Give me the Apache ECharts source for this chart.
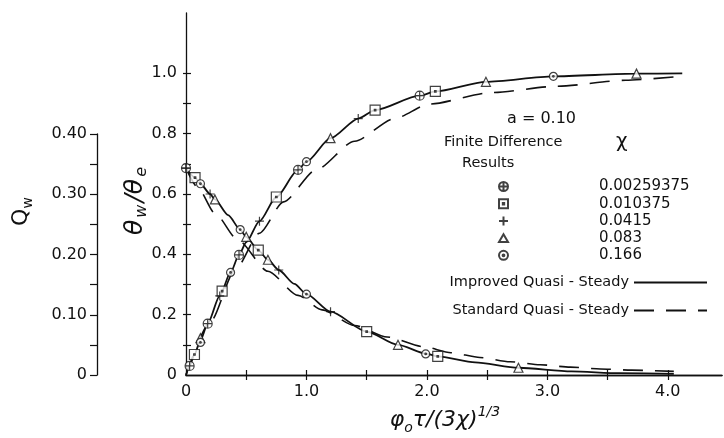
<!DOCTYPE html>
<html><head><meta charset="utf-8">
<script src="https://cdn.jsdelivr.net/npm/echarts@6/dist/echarts.min.js"></script>
<style>html,body{margin:0;padding:0;background:#fff}#c{width:724px;height:438px}</style>
</head><body><div id="c"></div>
<script>
// ---- data ----
const xLabelValues = [0, 1, 2, 3, 4];
const xTickValues = [0.5, 1, 1.5, 2, 2.5, 3, 3.5, 4];
const thetaLabelValues = [0, 0.2, 0.4, 0.6, 0.8, 1.0];
const thetaTickValues = [0.1, 0.2, 0.3, 0.4, 0.5, 0.6, 0.7, 0.8, 0.9, 1.0];
const qLabelValues = [0, 0.1, 0.2, 0.3, 0.4];
const qTickValues = [0, 0.05, 0.1, 0.15, 0.2, 0.25, 0.3, 0.35, 0.4];
const chiValues = ['0.00259375', '0.010375', '0.0415', '0.083', '0.166'];

// Improved quasi-steady (solid) : theta_w/theta_e rising curve
const improvedTheta = [[0,0],[0.03,0.03],[0.07,0.068],[0.12,0.115],[0.18,0.17],[0.28,0.262],[0.37,0.34],[0.44,0.398],[0.5,0.44],[0.61,0.51],[0.75,0.59],[0.93,0.68],[1.0,0.707],[1.2,0.785],[1.43,0.85],[1.57,0.878],[1.94,0.926],[2.07,0.94],[2.49,0.972],[3.05,0.99],[3.74,0.999],[4.12,1.0]];
// Improved quasi-steady (solid) : Q_w falling curve
const improvedQ = [[0,0.343],[0.075,0.327],[0.12,0.317],[0.2,0.3],[0.24,0.291],[0.35,0.265],[0.45,0.241],[0.5,0.229],[0.6,0.207],[0.68,0.191],[0.77,0.174],[0.9,0.151],[1.0,0.134],[1.2,0.105],[1.5,0.072],[1.76,0.05],[2.0,0.035],[2.09,0.031],[2.4,0.021],[2.76,0.012],[3.2,0.006],[3.6,0.003],[4.05,0.002]];
// Standard quasi-steady (dashed)
const standardTheta = [[0,0],[0.2,0.175],[0.41,0.35],[0.61,0.47],[0.81,0.574],[1.08,0.68],[1.4,0.775],[1.73,0.85],[2.02,0.898],[2.53,0.936],[3.08,0.957],[3.65,0.977],[4.1,0.99]];
const standardQ = [[0,0.343],[0.1,0.31],[0.24,0.268],[0.43,0.224],[0.68,0.172],[0.93,0.132],[1.13,0.108],[1.4,0.082],[1.67,0.063],[1.97,0.047],[2.2,0.037],[2.44,0.029],[2.69,0.022],[2.94,0.017],[3.19,0.013],[3.44,0.01],[3.7,0.008],[4.05,0.006]];

// Finite difference results, one pair of arrays per chi
const fd1Theta = [[0.03,0.03],[0.18,0.17],[0.44,0.398],[0.93,0.68],[1.94,0.926]];
const fd1Q = [[0,0.343]];
const fd2Theta = [[0.07,0.068],[0.30,0.278],[0.75,0.59],[1.57,0.878],[2.07,0.94]];
const fd2Q = [[0.075,0.327],[0.6,0.207],[1.5,0.072],[2.09,0.031]];
const fd3Theta = [[0.28,0.262],[0.61,0.51],[1.43,0.85]];
const fd3Q = [[0,0.343],[0.2,0.3],[0.77,0.174],[1.2,0.105]];
const fd4Theta = [[0.12,0.122],[1.2,0.785],[2.49,0.972],[3.74,0.999]];
const fd4Q = [[0.24,0.291],[0.5,0.229],[0.68,0.191],[1.76,0.05],[2.76,0.012]];
const fd5Theta = [[0.12,0.108],[0.37,0.34],[1.0,0.707],[3.05,0.99]];
const fd5Q = [[0.12,0.317],[0.45,0.241],[1.0,0.134],[1.99,0.035]];

// ---- styles ----
const INK = '#111';
const FONT = '"DejaVu Sans", sans-serif';
const symbols = [
  'path://M0,10A10,10 0 1 1 20,10A10,10 0 1 1 0,10Z M10,0L10,20M0,10L20,10',
  'path://M0,0L20,0L20,20L0,20Z M8.5,8.5L11.5,8.5L11.5,11.5L8.5,11.5Z',
  'path://M10,0L10,20M0,10L20,10',
  'path://M10,0L20,17.3L0,17.3Z',
  'path://M0,10A10,10 0 1 1 20,10A10,10 0 1 1 0,10Z M8,10A2,2 0 1 1 12,10A2,2 0 1 1 8,10Z'
];
const symSizes = [9, 10, 9, 9, 8];
const fdTheta = [fd1Theta, fd2Theta, fd3Theta, fd4Theta, fd5Theta];
const fdQ = [fd1Q, fd2Q, fd3Q, fd4Q, fd5Q];

const lineCommon = {type:'line', xAxisIndex:0, symbol:'none', showSymbol:false, smooth:0.25, smoothMonotone:'x', itemStyle:{color:INK}, z:2};
const series = [
  Object.assign({}, lineCommon, {name:'Improved Quasi - Steady', data:improvedTheta, yAxisIndex:0, lineStyle:{color:INK, width:1.8}}),
  Object.assign({}, lineCommon, {name:'Improved Quasi - Steady', data:improvedQ, yAxisIndex:1, lineStyle:{color:INK, width:1.8}}),
  Object.assign({}, lineCommon, {name:'Standard Quasi - Steady', data:standardTheta, yAxisIndex:0, lineStyle:{color:INK, width:1.6, type:[20,12]}}),
  Object.assign({}, lineCommon, {name:'Standard Quasi - Steady', data:standardQ, yAxisIndex:1, lineStyle:{color:INK, width:1.6, type:[20,12]}})
];
chiValues.forEach((chi, i) => {
  const common = {name:chi, type:'scatter', xAxisIndex:0, symbol:symbols[i], symbolSize:symSizes[i],
    itemStyle:{color:'#fff', borderColor:INK, borderWidth:1.2}, z:5};
  series.push(Object.assign({}, common, {data:fdTheta[i], yAxisIndex:0}));
  series.push(Object.assign({}, common, {data:fdQ[i], yAxisIndex:1}));
});

const fmt1 = v => v === 0 ? '0' : v.toFixed(1);
const fmt2 = v => v === 0 ? '0' : v.toFixed(2);
const axisLine = {show:true, lineStyle:{color:INK, width:1.3}};

const option = {
  animation:false,
  backgroundColor:'#fff',
  grid:[
    {left:186, right:2, top:13, bottom:63, outerBoundsMode:'none', containLabel:false},
    {left:97, width:1, top:134, bottom:63, outerBoundsMode:'none', containLabel:false}
  ],
  xAxis:[
    {type:'value', gridIndex:0, position:'bottom', min:0, max:4.45, splitLine:{show:false},
     axisLine:axisLine,
     axisTick:{show:true, inside:true, length:5, customValues:xTickValues, lineStyle:{color:INK, width:1.2}},
     axisLabel:{customValues:xLabelValues, formatter:fmt1, color:INK, fontFamily:FONT, fontSize:16, margin:9},
     name:'{i|φ}{sub|o}{i|τ/(3χ)}{sup|1/3}', nameLocation:'middle', nameGap:30,
     nameTextStyle:{color:INK, padding:[0,18,0,0], rich:{
       i:{fontFamily:FONT, fontStyle:'italic', fontSize:22, lineHeight:30, color:INK},
       sub:{fontFamily:FONT, fontStyle:'italic', fontSize:14, lineHeight:13, verticalAlign:'bottom', color:INK},
       sup:{fontFamily:FONT, fontStyle:'italic', fontSize:14, lineHeight:13, verticalAlign:'top', color:INK}
     }}
    },
    {type:'value', gridIndex:0, position:'top', min:0, max:4.45, splitLine:{show:false},
     axisLine:axisLine,
     axisTick:{show:true, inside:true, length:5, customValues:xTickValues, lineStyle:{color:INK, width:1.2}},
     axisLabel:{show:false}},
    {type:'value', gridIndex:1, show:false, min:0, max:1}
  ],
  yAxis:[
    {type:'value', gridIndex:0, position:'left', min:0, max:1.2, splitLine:{show:false},
     axisLine:axisLine,
     axisTick:{show:true, inside:true, length:5, customValues:thetaTickValues, lineStyle:{color:INK, width:1.2}},
     axisLabel:{customValues:thetaLabelValues, formatter:fmt1, color:INK, fontFamily:FONT, fontSize:16, margin:9},
     name:'{i|θ}{sub|w}{i|/θ}{sub|e}', nameLocation:'middle', nameGap:36, nameRotate:90, nameMoveOverlap:false,
     nameTextStyle:{color:INK, padding:[0,0,0,-16], rich:{
       i:{fontFamily:FONT, fontStyle:'italic', fontSize:25, lineHeight:30, color:INK, padding:[0,2,0,2]},
       sub:{fontFamily:FONT, fontStyle:'italic', fontSize:16, lineHeight:15, verticalAlign:'bottom', color:INK}
     }}
    },
    {type:'value', gridIndex:0, position:'right', min:0, max:0.6, splitLine:{show:false},
     axisLine:{show:false},
     axisTick:{show:true, inside:true, length:3, customValues:[0.05,0.1,0.15,0.2,0.25,0.3,0.35,0.4,0.45,0.5], lineStyle:{color:INK, width:1.2}},
     axisLabel:{show:false}},
    {type:'value', gridIndex:1, position:'left', min:0, max:0.4, splitLine:{show:false},
     axisLine:axisLine,
     axisTick:{show:true, inside:false, length:7, customValues:qTickValues, lineStyle:{color:INK, width:1.2}},
     axisLabel:{customValues:qLabelValues, formatter:fmt2, color:INK, fontFamily:FONT, fontSize:16, margin:10},
     name:'{q|Q}{sub|w}', nameLocation:'middle', nameGap:62, nameRotate:90,
     nameTextStyle:{color:INK, padding:[0,0,0,86], rich:{
       q:{fontFamily:FONT, fontSize:22, lineHeight:28, color:INK},
       sub:{fontFamily:FONT, fontSize:14, lineHeight:14, verticalAlign:'bottom', color:INK}
     }}
    }
  ],
  legend:[
    {data:chiValues, orient:'vertical', left:493, top:174, itemWidth:9, itemHeight:9, itemGap:2.2,
     selectedMode:false, textStyle:{color:INK, fontFamily:FONT, fontSize:15, lineHeight:15, padding:[0,0,0,86]}},
    {data:['Improved Quasi - Steady','Standard Quasi - Steady'], orient:'vertical', right:11, top:270, align:'right',
     itemWidth:73, itemHeight:10, itemGap:13, selectedMode:false,
     itemStyle:{opacity:0},
     textStyle:{color:INK, fontFamily:FONT, fontSize:14.5, lineHeight:15}}
  ],
  graphic:[
    {type:'text', x:507, y:119, style:{text:'a = 0.10', font:'16px "DejaVu Sans", sans-serif', fill:INK, verticalAlign:'middle', textVerticalAlign:'middle'}},
    {type:'text', x:444, y:142, style:{text:'Finite Difference', font:'14.5px "DejaVu Sans", sans-serif', fill:INK, verticalAlign:'middle', textVerticalAlign:'middle'}},
    {type:'text', x:616, y:142, style:{text:'χ', font:'20px "DejaVu Sans", sans-serif', fill:INK, verticalAlign:'middle', textVerticalAlign:'middle'}},
    {type:'text', x:462, y:163, style:{text:'Results', font:'14.5px "DejaVu Sans", sans-serif', fill:INK, verticalAlign:'middle', textVerticalAlign:'middle'}}
  ],
  series:series
};
const chart = echarts.init(document.getElementById('c'), null, {renderer:'canvas'});
chart.setOption(option);
</script></body></html>
